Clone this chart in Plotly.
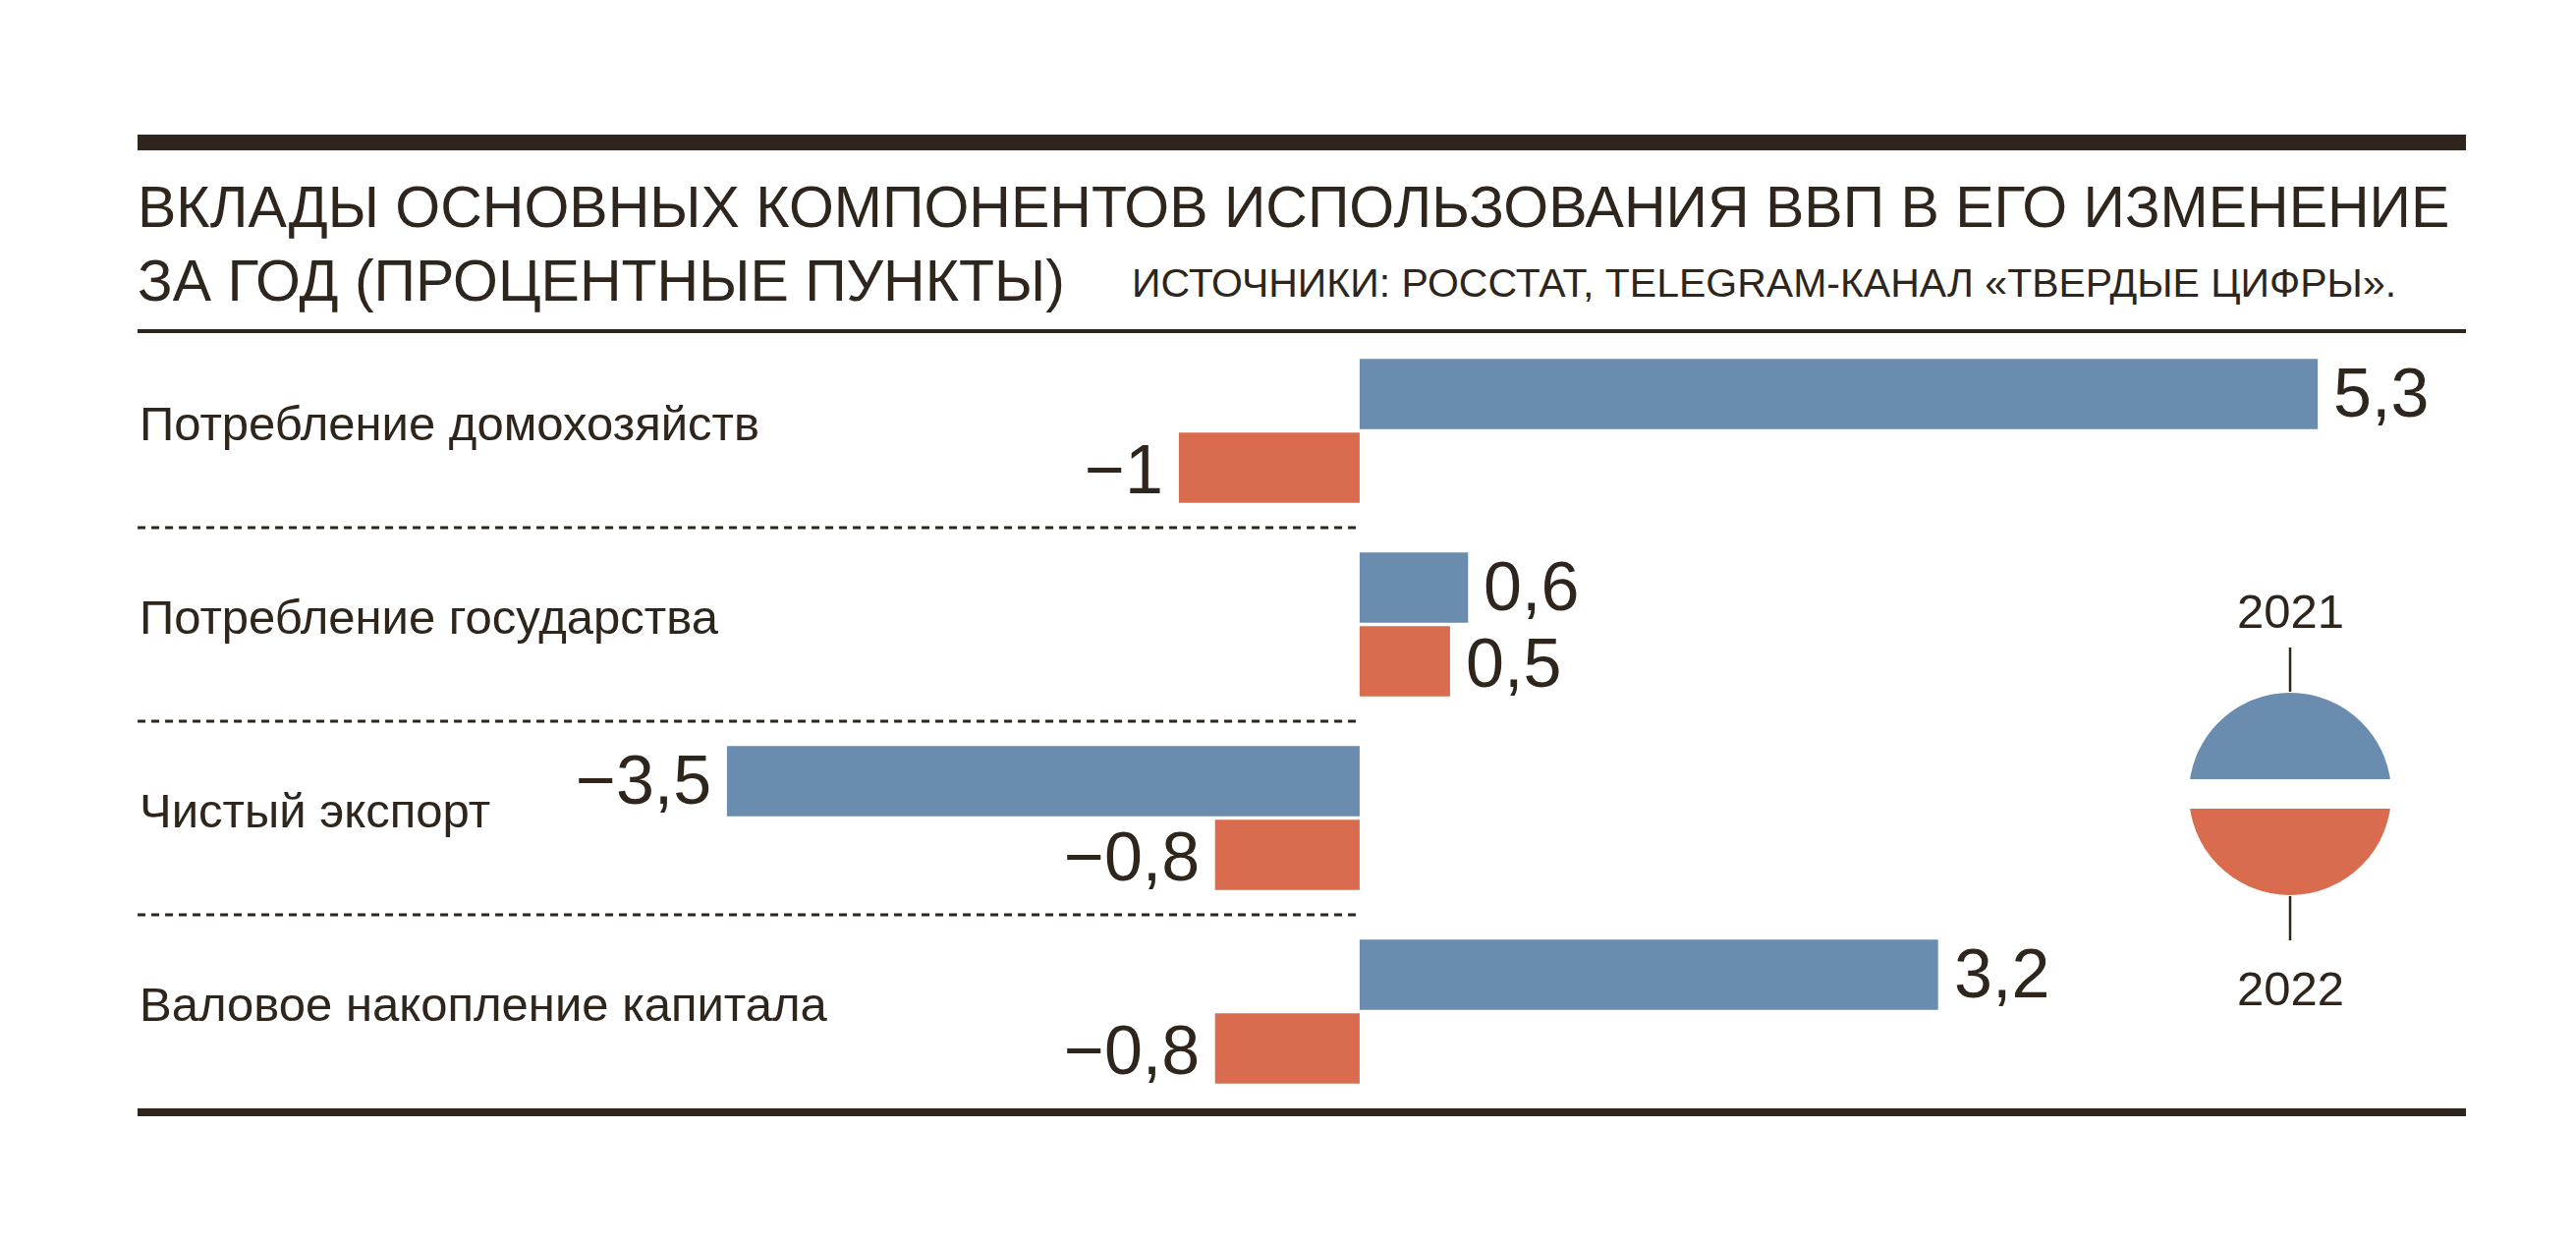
import plotly.graph_objects as go

# ---------------- data ----------------
categories = ["Потребление домохозяйств", "Потребление государства",
              "Чистый экспорт", "Валовое накопление капитала"]
values_2021 = [5.3, 0.6, -3.5, 3.2]
values_2022 = [-1.0, 0.5, -0.8, -0.8]
years = ["2021", "2022"]
title_lines = ["ВКЛАДЫ ОСНОВНЫХ КОМПОНЕНТОВ ИСПОЛЬЗОВАНИЯ ВВП В ЕГО ИЗМЕНЕНИЕ",
               "ЗА ГОД (ПРОЦЕНТНЫЕ ПУНКТЫ)"]
source_text = "ИСТОЧНИКИ: РОССТАТ, TELEGRAM-КАНАЛ «ТВЕРДЫЕ ЦИФРЫ»."

# ---------------- style ----------------
BLUE = "#6a8caf"
ORANGE = "#d96c4e"
INK = "#2e251c"
SANS = "Liberation Sans, Arial, sans-serif"

W, H = 2622, 1264
L, R, T, B = 134, 2510, 340, 1128          # plot area in pixels
X_RANGE = [-6.793, 6.120]


def px(x):
    return (x - L) / (R - L)


def py(y):
    return (B - y) / (B - T)


def fmt(v):
    return f"{v:g}".replace(".", ",").replace("-", "\u2212")


fig = go.Figure()
fig.add_trace(go.Bar(y=categories, x=values_2021, orientation="h", name=years[0],
                     marker=dict(color=BLUE, line=dict(width=0)), hoverinfo="x"))
fig.add_trace(go.Bar(y=categories, x=values_2022, orientation="h", name=years[1],
                     marker=dict(color=ORANGE, line=dict(width=0)), hoverinfo="x"))

# legend disc (two halves separated by white band)
cx, cy, rr = 2331, 808, 118
fig.add_trace(go.Pie(values=[1, 1], labels=years, sort=False, direction="clockwise",
                     rotation=-90, textinfo="none", hoverinfo="skip", showlegend=False,
                     marker=dict(colors=[BLUE, ORANGE], line=dict(color="white", width=30)),
                     domain=dict(x=[px(cx - rr), px(cx + rr)], y=[py(cy + rr), py(cy - rr)])))

annotations = []
# value labels
for vals, ys in ((values_2021, 39), (values_2022, -39)):
    for cat, v in zip(categories, vals):
        annotations.append(dict(
            x=v, y=cat, xref="x", yref="y", text=fmt(v), showarrow=False,
            xanchor="left" if v > 0 else "right", xshift=14 if v > 0 else -14,
            yshift=ys, font=dict(family=SANS, size=70, color=INK)))
# category labels
for cat in categories:
    annotations.append(dict(
        x=px(140), y=cat, xref="paper", yref="y", text=cat, showarrow=False,
        xanchor="left", yanchor="middle", yshift=8,
        font=dict(family=SANS, size=49, color=INK)))
# title + source
annotations.append(dict(x=px(138), y=py(211), xref="paper", yref="paper", text=title_lines[0],
                        showarrow=False, xanchor="left", yanchor="middle",
                        font=dict(family=SANS, size=59, color=INK)))
annotations.append(dict(x=px(138), y=py(286), xref="paper", yref="paper", text=title_lines[1],
                        showarrow=False, xanchor="left", yanchor="middle",
                        font=dict(family=SANS, size=59, color=INK)))
annotations.append(dict(x=px(1150), y=py(288), xref="paper", yref="paper", text=source_text,
                        showarrow=False, xanchor="left", yanchor="middle",
                        font=dict(family=SANS, size=41, color=INK)))
# legend years
annotations.append(dict(x=px(cx), y=py(622), xref="paper", yref="paper", text=years[0],
                        showarrow=False, xanchor="center", yanchor="middle",
                        font=dict(family=SANS, size=49, color=INK)))
annotations.append(dict(x=px(cx), y=py(1006), xref="paper", yref="paper", text=years[1],
                        showarrow=False, xanchor="center", yanchor="middle",
                        font=dict(family=SANS, size=49, color=INK)))

shapes = []
# rules
for y0, y1 in ((137, 153), (335, 339), (1128, 1136)):
    shapes.append(dict(type="rect", xref="paper", yref="paper", x0=px(140), x1=px(2510),
                       y0=py(y1), y1=py(y0), fillcolor=INK, line=dict(width=0), layer="above"))
# dotted separators between categories
for k in range(len(categories) - 1):
    shapes.append(dict(type="line", xref="x", yref="y", x0=X_RANGE[0] + 0.033, x1=0,
                       y0=k + 0.5, y1=k + 0.5, line=dict(color=INK, width=3, dash="8px,6px")))
# legend ticks
for y0, y1 in ((659, 704), (912, 957)):
    shapes.append(dict(type="line", xref="paper", yref="paper", x0=px(cx), x1=px(cx),
                       y0=py(y0), y1=py(y1), line=dict(color=INK, width=2.5)))

fig.update_layout(
    width=W, height=H,
    margin=dict(l=L, r=W - R, t=T, b=H - B, pad=0),
    paper_bgcolor="white", plot_bgcolor="white",
    barmode="group", bargap=0.239, bargroupgap=0.047,
    showlegend=False,
    xaxis=dict(range=X_RANGE, visible=False, fixedrange=True),
    yaxis=dict(range=[3.5, -0.5], type="category", visible=False, fixedrange=True),
    annotations=annotations, shapes=shapes,
)

fig.write_html("out.html")
